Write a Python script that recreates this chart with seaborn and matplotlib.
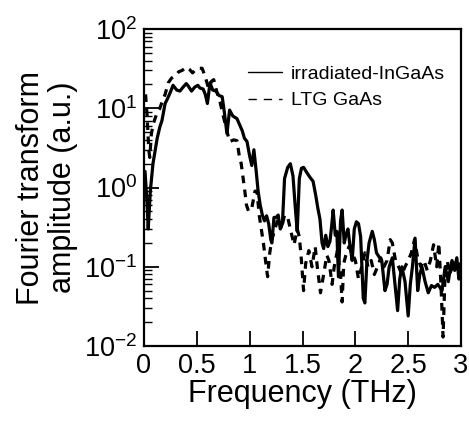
import matplotlib
matplotlib.use("Agg")
import matplotlib.pyplot as plt
import seaborn as sns
import numpy as np
import pandas as pd
from matplotlib.lines import Line2D
from matplotlib.ticker import LogLocator, FixedLocator, FuncFormatter

# ---- data ----
freq_ingaas = [0.01, 0.03, 0.04, 0.06, 0.085, 0.11, 0.125, 0.15, 0.17, 0.2, 0.22, 0.25, 0.275,
               0.31, 0.34, 0.37, 0.40, 0.42, 0.45, 0.48, 0.51, 0.53, 0.56, 0.58, 0.60, 0.625,
               0.65, 0.68, 0.71, 0.74, 0.76, 0.785, 0.81, 0.84, 0.88, 0.91, 0.93, 0.95, 0.975,
               1.0, 1.02, 1.04, 1.06, 1.08, 1.10, 1.12, 1.14, 1.16, 1.18, 1.20, 1.21, 1.23,
               1.25, 1.27, 1.29, 1.31, 1.33, 1.36, 1.385, 1.41, 1.43, 1.45, 1.47, 1.49, 1.51,
               1.54, 1.57, 1.60, 1.625, 1.645, 1.665, 1.685, 1.70, 1.72, 1.74, 1.76, 1.775,
               1.79, 1.81, 1.825, 1.84, 1.86, 1.875, 1.895, 1.91, 1.93, 1.95, 1.97, 1.99, 2.01,
               2.03, 2.05, 2.075, 2.09, 2.11, 2.13, 2.16, 2.18, 2.20, 2.23, 2.25, 2.28, 2.30,
               2.32, 2.35, 2.37, 2.40, 2.42, 2.44, 2.47, 2.50, 2.52, 2.54, 2.565, 2.59, 2.61,
               2.63, 2.66, 2.69, 2.72, 2.75, 2.78, 2.80, 2.82, 2.85, 2.88, 2.90, 2.915, 2.94,
               2.96, 2.98, 2.995]
amp_ingaas = [1.6, 0.6, 0.3, 0.9, 2.0, 3.2, 4.2, 5.8, 7.0, 11.5, 13, 16, 19.5,
              17, 16.5, 18.5, 20.5, 19, 16.5, 18.5, 19.5, 18, 17.5, 15, 11.5, 21,
              17, 16.5, 14.5, 14, 9, 4.8, 9.5, 8, 7.4, 6, 5.2, 4.2, 3.8,
              2.5, 1.9, 3.0, 1.7, 0.9, 0.6, 0.45, 0.38, 0.44, 0.35, 0.22, 0.2, 0.42,
              0.42, 0.45, 0.3, 0.35, 1.3, 1.8, 2.0, 1.4, 0.6, 0.28, 1.3, 1.75, 1.8,
              1.55, 1.35, 1.2, 0.8, 0.55, 0.4, 0.2, 0.17, 0.25, 0.18, 0.21, 0.32,
              0.52, 0.25, 0.28, 0.075, 0.38, 0.52, 0.2, 0.25, 0.3, 0.18, 0.12, 0.3, 0.37,
              0.35, 0.24, 0.04, 0.035, 0.12, 0.2, 0.28, 0.22, 0.15, 0.13, 0.12, 0.05, 0.06,
              0.1, 0.13, 0.07, 0.028, 0.07, 0.1, 0.065, 0.024, 0.06, 0.1, 0.23, 0.05, 0.08,
              0.1, 0.065, 0.047, 0.058, 0.055, 0.06, 0.055, 0.05, 0.1, 0.065, 0.1, 0.12, 0.09,
              0.13, 0.07, 0.11]

freq_gaas = [0.015, 0.03, 0.045, 0.055, 0.07, 0.09, 0.12, 0.15, 0.18, 0.20, 0.23, 0.26, 0.30,
             0.33, 0.36, 0.40, 0.43, 0.46, 0.49, 0.52, 0.55, 0.58, 0.61, 0.64, 0.66, 0.69,
             0.72, 0.75, 0.78, 0.81, 0.85, 0.88, 0.90, 0.92, 0.95, 0.97, 0.99, 1.02, 1.05,
             1.07, 1.09, 1.11, 1.13, 1.15, 1.17, 1.19, 1.21, 1.24, 1.27, 1.30, 1.33, 1.36,
             1.39, 1.42, 1.45, 1.47, 1.49, 1.51, 1.53, 1.56, 1.59, 1.62, 1.64, 1.67, 1.70,
             1.73, 1.75, 1.78, 1.80, 1.83, 1.86, 1.875, 1.89, 1.91, 1.94, 1.97, 2.00, 2.03,
             2.06, 2.09, 2.12, 2.15, 2.18, 2.21, 2.24, 2.27, 2.30, 2.33, 2.35, 2.38, 2.41,
             2.44, 2.47, 2.50, 2.53, 2.56, 2.59, 2.62, 2.65, 2.68, 2.71, 2.74, 2.77, 2.79,
             2.81, 2.83, 2.85, 2.87, 2.89, 2.92, 2.95, 2.98]
amp_gaas = [15, 8, 3, 2.4, 4.8, 6.5, 8.5, 10, 13, 15, 21, 24, 26,
            29, 30, 33, 31, 28, 31, 32, 32, 25, 18, 22, 23, 16,
            12, 8, 5.5, 3.8, 4.0, 3.9, 2.6, 2.0, 1.0, 0.6, 0.5, 0.55, 0.9,
            0.9, 0.45, 0.3, 0.2, 0.12, 0.075, 0.15, 0.22, 0.3, 0.42, 0.3, 0.45, 0.42,
            0.28, 0.19, 0.3, 0.24, 0.12, 0.05, 0.11, 0.16, 0.1, 0.18, 0.1, 0.047, 0.08,
            0.14, 0.12, 0.06, 0.1, 0.16, 0.08, 0.036, 0.11, 0.14, 0.18, 0.15, 0.12, 0.07,
            0.1, 0.15, 0.1, 0.12, 0.08, 0.1, 0.13, 0.1, 0.12, 0.22, 0.2, 0.12, 0.1,
            0.08, 0.1, 0.12, 0.15, 0.22, 0.13, 0.1, 0.12, 0.09, 0.12, 0.19, 0.1, 0.2,
            0.06, 0.013, 0.09, 0.12, 0.08, 0.1, 0.12, 0.08]

labels = ["irradiated-InGaAs", "LTG GaAs"]
x_ticks = [0, 0.5, 1, 1.5, 2, 2.5, 3]
x_tick_labels = ["0", "0.5", "1", "1.5", "2", "2.5", "3"]

# ---- style ----
sns.set_style("ticks", {"axes.edgecolor": "black", "xtick.color": "black", "ytick.color": "black",
                        "text.color": "black", "axes.labelcolor": "black"})
plt.rcParams["font.family"] = ["Liberation Sans", "DejaVu Sans"]
plt.rcParams["mathtext.fontset"] = "custom"
plt.rcParams["mathtext.rm"] = "Liberation Sans"
plt.rcParams["mathtext.it"] = "Liberation Sans"

fig = plt.figure(figsize=(4.69, 4.21), dpi=100)
ax = fig.add_axes([0.307, 0.178, 0.676, 0.753])

df1 = pd.DataFrame({"f": freq_ingaas, "a": amp_ingaas})
df2 = pd.DataFrame({"f": freq_gaas, "a": amp_gaas})
sns.lineplot(data=df1, x="f", y="a", ax=ax, color="black", lw=2.3, estimator=None, sort=False)
sns.lineplot(data=df2, x="f", y="a", ax=ax, color="black", lw=2.3, estimator=None, sort=False)
ax.lines[1].set_dashes([2.4, 2.0])

ax.set_yscale("log")
ax.set_xlim(0, 3)
ax.set_ylim(1e-2, 1e2)

ax.xaxis.set_major_locator(FixedLocator(x_ticks))
ax.set_xticklabels(x_tick_labels)
ax.yaxis.set_major_locator(LogLocator(base=10, numticks=10))
ax.yaxis.set_minor_locator(LogLocator(base=10, subs=np.arange(2, 10), numticks=10))
ax.yaxis.set_major_formatter(FuncFormatter(lambda v, p: r"$\mathregular{10^{%d}}$" % round(np.log10(v))))

ax.tick_params(axis="both", which="major", direction="in", length=11, width=1.3,
               labelsize=19.5, top=False, right=False, pad=5, colors="black")
ax.tick_params(axis="y", which="minor", direction="in", length=5.5, width=1.0, right=False, colors="black")
ax.tick_params(axis="x", which="minor", bottom=False)
for s in ax.spines.values():
    s.set_linewidth(1.6)
    s.set_color("black")
    s.set_visible(True)

ax.set_xlabel("Frequency (THz)", fontsize=22, labelpad=0, color="black")
ax.set_ylabel("Fourier transform\namplitude (a.u.)", fontsize=22, labelpad=4, linespacing=1.1, color="black")

handles = [Line2D([], [], color="black", lw=1.0),
           Line2D([], [], color="black", lw=1.0, dashes=[6, 5])]
leg = ax.legend(handles, labels, loc="upper left", bbox_to_anchor=(0.305, 0.91), frameon=False,
                fontsize=14, handlelength=1.7, handletextpad=0.5, labelspacing=0.45, borderaxespad=0)
for t in leg.get_texts():
    t.set_color("black")

fig.savefig("out.png", dpi=100)
